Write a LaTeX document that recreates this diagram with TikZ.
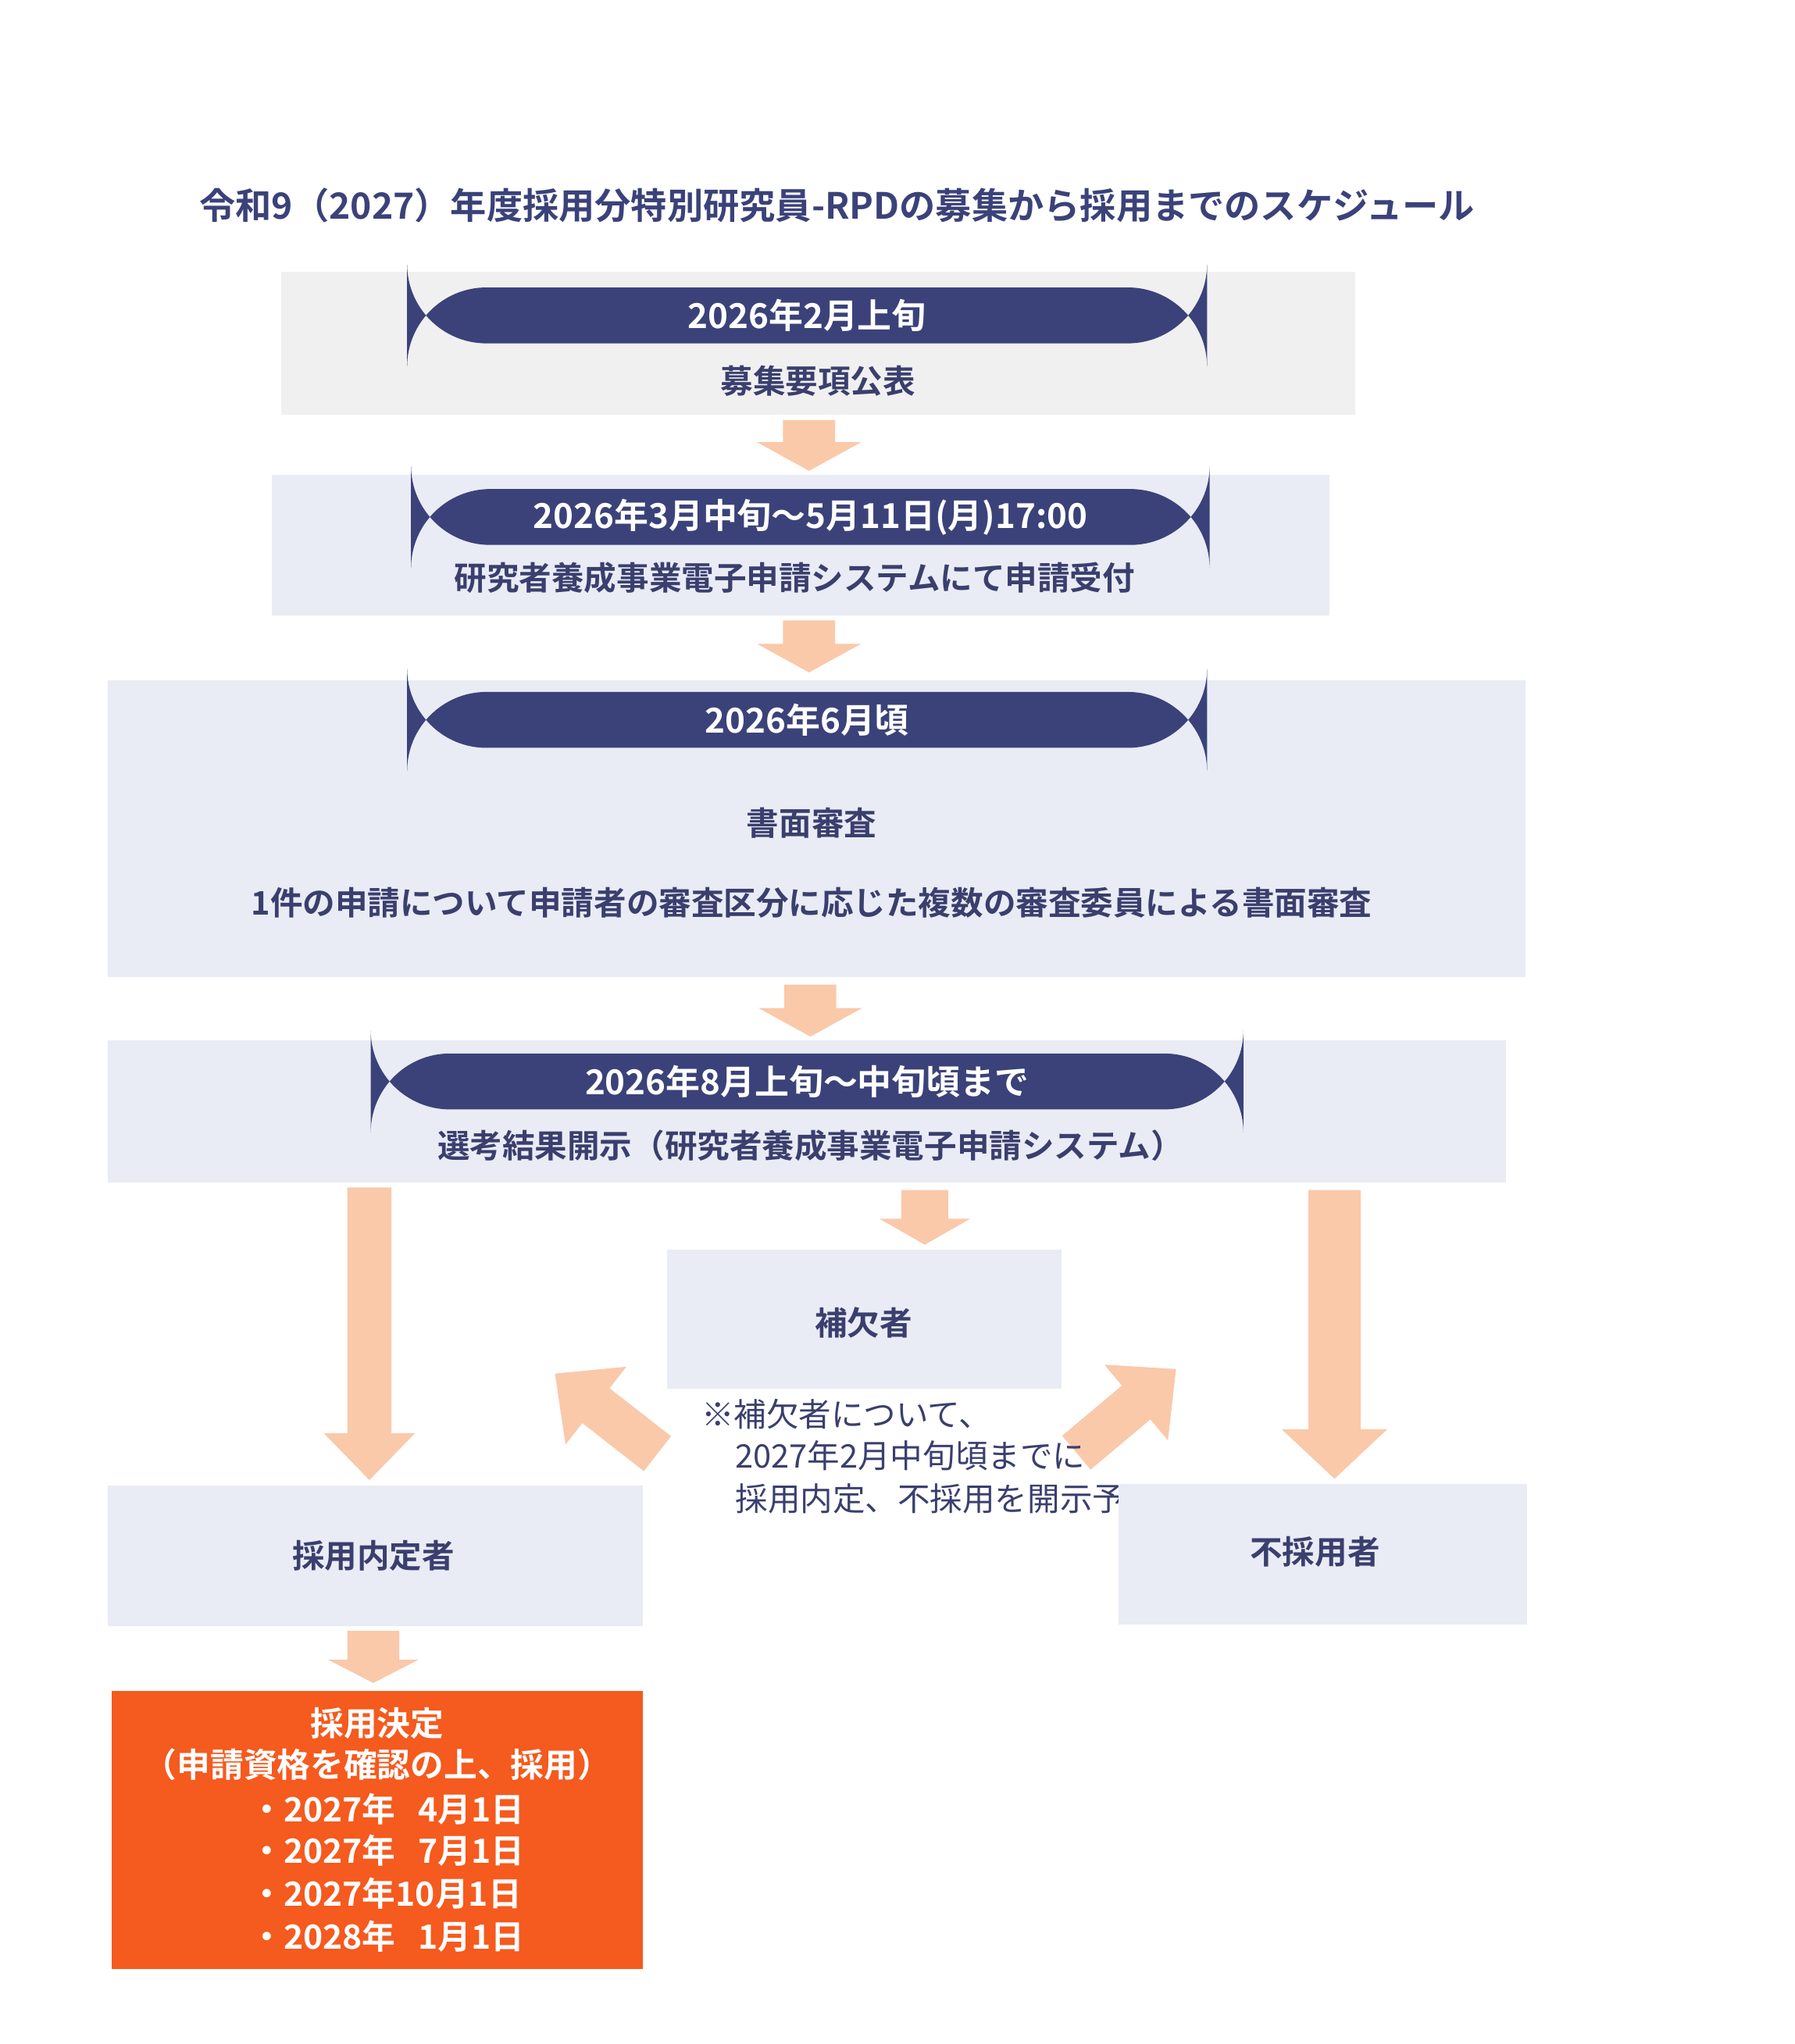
\documentclass[tikz,border=0pt]{standalone}
\usepackage{fontspec}
\setmainfont{Noto Sans CJK JP}[BoldFont={Noto Sans CJK JP Bold}]
\definecolor{navy}{HTML}{3B4279}
\definecolor{txt}{HTML}{3A3F6E}
\definecolor{gbox}{HTML}{F0F0F0}
\definecolor{bbox}{HTML}{E9ECF5}
\definecolor{arr}{HTML}{F9C9AA}
\definecolor{org}{HTML}{F55A1E}
\begin{document}
\begin{tikzpicture}[x=0.1mm,y=-0.1mm,
  box/.style={fill=bbox,draw=none},
  pill/.style={fill=navy,rounded corners=21.5\pgflinewidth, draw=none},
  ptxt/.style={text=white,font=\fontsize{7.5}{9}\selectfont\bfseries},
  btxt/.style={text=txt,font=\fontsize{7.1}{9}\selectfont\bfseries},
  ntxt/.style={text=txt,font=\fontsize{7.1}{9}\selectfont,anchor=west},
  otxt/.style={text=white,font=\fontsize{7.3}{9}\selectfont\bfseries}]
\useasboundingbox (0,0) rectangle (1380,1571.6);
\newcommand\varrow[6]{% x, y1, y2, shaft, head, headlen
  \fill[arr] ({#1-#4/2},#2) -- ({#1+#4/2},#2) -- ({#1+#4/2},{#3-#6}) -- ({#1+#5/2},{#3-#6}) -- (#1,#3) -- ({#1-#5/2},{#3-#6}) -- ({#1-#4/2},{#3-#6}) -- cycle;}
\node[anchor=west,text=navy,font=\fontsize{7.9}{9}\selectfont\bfseries] (title) at (141,158) {令和9（2027）年度採用分特別研究員-RPDの募集から採用までのスケジュール};
% box1
\fill[gbox] (216,209) rectangle (1042,319);
\fill[navy,rounded corners=6.1mm] (313,221) rectangle (928,264);
\node[ptxt] (p1) at (620.5,242.5) {2026年2月上旬};
\node[btxt] (t1) at (629,293) {募集要項公表};
\varrow{622}{323}{362}{40}{80}{22}
% box2
\fill[bbox] (209,365) rectangle (1022,473);
\fill[navy,rounded corners=6.1mm] (316,376) rectangle (930,419);
\node[ptxt] (p2) at (623,397.5) {2026年3月中旬～5月11日(月)17:00};
\node[btxt] (t2) at (611,444) {研究者養成事業電子申請システムにて申請受付};
\varrow{622}{477}{517}{40}{80}{22}
% box3
\fill[bbox] (83,523) rectangle (1173,751);
\fill[navy,rounded corners=6.1mm] (313,532) rectangle (928,575);
\node[ptxt] (p3) at (620.5,553.5) {2026年6月頃};
\node[btxt] (t3a) at (624,633) {書面審査};
\node[btxt] (t3b) at (624,694) {1件の申請について申請者の審査区分に応じた複数の審査委員による書面審査};
\varrow{623}{757}{797}{40}{80}{22}
% box4
\fill[bbox] (83,800) rectangle (1158,909);
\fill[navy,rounded corners=6.1mm] (285,810) rectangle (956,853);
\node[ptxt] (p4) at (620.5,831.5) {2026年8月上旬～中旬頃まで};
\node[btxt] (t4) at (623,881) {選考結果開示（研究者養成事業電子申請システム）};
% branches
\varrow{284}{913}{1138}{34}{70}{36}
\varrow{711}{915}{957}{36}{70}{20}
\varrow{1026}{915}{1137}{40}{81}{38}
\fill[bbox] (513,961) rectangle (816,1068);
\node[btxt] (hk) at (664,1017) {補欠者};
\begin{scope}[shift={(470,1090)},rotate=142]
  \fill[arr] (-45,-17) -- (15,-17) -- (15,-38) -- (55,0) -- (15,38) -- (15,17) -- (-45,17) -- cycle;
\end{scope}
\begin{scope}[shift={(862,1088)},rotate=40]
  \fill[arr] (-45,-17) -- (15,-17) -- (15,-38) -- (55,0) -- (15,38) -- (15,17) -- (-45,17) -- cycle;
\end{scope}
\node[ntxt] (n1) at (527,1087) {※補欠者について、};
\node[ntxt] (n2) at (553,1119) {2027年2月中旬頃までに};
\node[ntxt] (n3) at (553,1152) {採用内定、不採用を開示予};
\fill[bbox] (83,1142) rectangle (494,1250);
\node[btxt] (nt) at (287,1196) {採用内定者};
\fill[bbox] (860,1141) rectangle (1174,1249);
\node[btxt] (fs) at (1011,1193) {不採用者};
\varrow{287}{1254}{1294}{40}{70}{18}
\fill[org] (86,1300) rectangle (494,1514);
\node[otxt] (o1) at (290,1325) {採用決定};
\node[otxt] (o2) at (290,1357) {（申請資格を確認の上、採用）};
\node[otxt,anchor=west] (o3) at (180,1391) {・2027年\hspace{0.5em}\,4月1日};
\node[otxt,anchor=west] (o4) at (180,1423) {・2027年\hspace{0.5em}\,7月1日};
\node[otxt,anchor=west] (o5) at (180,1456) {・2027年10月1日};
\node[otxt,anchor=west] (o6) at (180,1489) {・2028年\hspace{0.5em}\,1月1日};
\end{tikzpicture}
\end{document}
